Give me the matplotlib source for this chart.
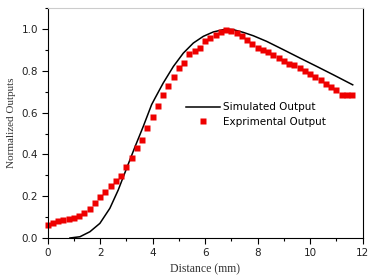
import numpy as np
import matplotlib
matplotlib.use("Agg")
import matplotlib.pyplot as plt
from matplotlib.ticker import MultipleLocator

# experimental points (every 0.2 mm)
exp_x = np.arange(0, 59) * 0.2
exp_y = [0.064, 0.072, 0.080, 0.085, 0.091, 0.097, 0.104, 0.118, 0.139, 0.166,
         0.195, 0.222, 0.249, 0.271, 0.298, 0.338, 0.381, 0.429, 0.470, 0.528,
         0.577, 0.632, 0.686, 0.729, 0.769, 0.812, 0.839, 0.880, 0.896, 0.909,
         0.941, 0.955, 0.971, 0.986, 0.997, 0.990, 0.979, 0.965, 0.947, 0.928,
         0.907, 0.901, 0.890, 0.874, 0.861, 0.845, 0.831, 0.828, 0.812, 0.800,
         0.785, 0.770, 0.754, 0.737, 0.721, 0.707, 0.686, 0.686, 0.686]

# simulated curve
sim_x = [0.85, 1.23, 1.61, 1.99, 2.37, 2.69, 3.01, 3.33, 3.64, 3.96, 4.09, 4.40,
         4.79, 5.17, 5.55, 5.93, 6.31, 6.69, 6.88, 7.07, 7.45, 7.83, 8.34, 8.98,
         9.61, 10.25, 10.88, 11.62]
sim_y = [0.000, 0.006, 0.030, 0.070, 0.142, 0.230, 0.334, 0.437, 0.533, 0.638,
         0.669, 0.741, 0.821, 0.885, 0.933, 0.965, 0.986, 0.997, 0.999, 0.997,
         0.984, 0.968, 0.941, 0.901, 0.861, 0.821, 0.781, 0.733]

fig = plt.figure(figsize=(3.78, 2.80), dpi=100)
ax = fig.add_axes([0.126, 0.15, 0.8335, 0.821])

ax.plot(sim_x, sim_y, color='black', lw=1.1, label='Simulated Output')
ax.plot(exp_x, exp_y, 's', color='#ee0000', ms=3.8, mec='none',
        label='Exprimental Output', clip_on=False)

ax.set_xlim(0, 12)
ax.set_ylim(0, 1.1)
ax.xaxis.set_major_locator(MultipleLocator(2))
ax.xaxis.set_minor_locator(MultipleLocator(1))
ax.yaxis.set_minor_locator(MultipleLocator(0.1))
ax.set_yticks(np.arange(0, 1.01, 0.2))
ax.set_yticklabels(['0.0', '0.2', '0.4', '0.6', '0.8', '1.0'])

ax.tick_params(which='major', length=4, width=0.8, labelsize=7.5, colors='black',
               labelcolor='#222222', pad=3)
ax.tick_params(which='minor', length=2.5, width=0.8)
ax.spines['top'].set_color('#cccccc')

ax.set_xlabel('Distance (mm)', family='Liberation Serif', fontsize=8.5, color='#333333')
ax.set_ylabel('Normalized Outputs', family='Liberation Serif', fontsize=8, color='#333333')

ax.legend(loc='upper left', bbox_to_anchor=(0.439, 0.59), frameon=False,
          fontsize=7.5, handlelength=3.3, handletextpad=0.3, labelspacing=0.45,
          borderaxespad=0, borderpad=0)

fig.savefig('out.png', dpi=100)
